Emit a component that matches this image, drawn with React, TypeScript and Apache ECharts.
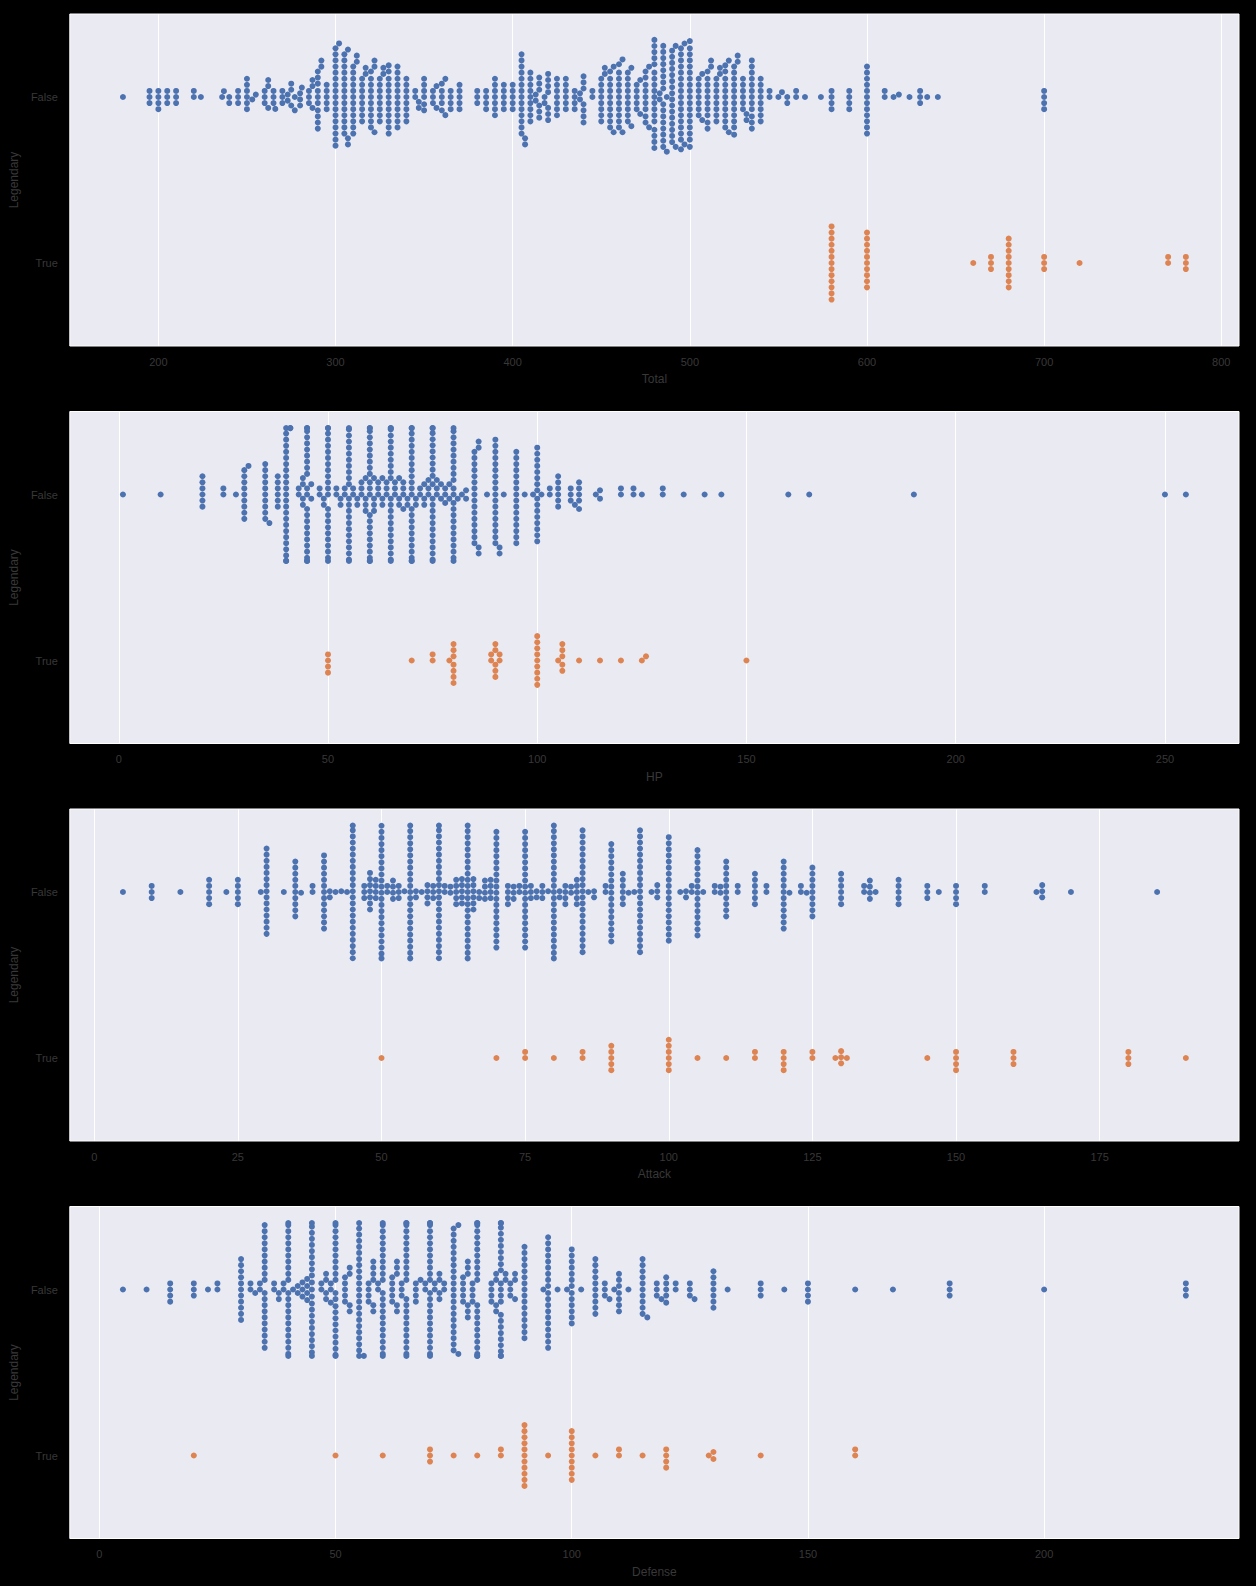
import React, { useEffect, useRef } from "react";
import * as echarts from "echarts";

type VC = [number, number][]; // [value, number of Pokémon with that value]

// ---------- Data ----------
const totalFalse: VC = [
  [180, 1], [195, 3], [200, 4], [205, 3], [210, 3], [220, 2], [224, 1], [236, 1], [237, 1], [240, 2],
  [245, 3], [250, 6], [253, 1], [255, 1], [260, 3], [262, 3], [265, 3], [266, 1], [270, 3], [273, 2],
  [275, 3], [277, 2], [280, 3], [281, 1], [285, 3], [287, 3], [290, 10], [292, 2], [295, 5], [300, 17],
  [302, 1], [305, 14], [307, 3], [310, 12], [312, 2], [315, 8], [317, 2], [320, 10], [322, 3], [325, 8],
  [327, 2], [330, 12], [335, 11], [340, 8], [345, 2], [347, 2], [350, 6], [355, 3], [357, 2], [360, 5],
  [362, 2], [365, 4], [370, 5], [380, 3], [385, 4], [390, 7], [395, 5], [400, 5], [405, 14], [407, 2],
  [410, 9], [413, 2], [415, 6], [418, 2], [420, 7], [425, 7], [430, 6], [435, 4], [438, 2], [440, 7],
  [445, 2], [450, 8], [452, 2], [455, 10], [457, 2], [460, 11], [462, 2], [465, 9], [467, 2], [470, 5],
  [472, 2], [475, 9], [477, 2], [480, 18], [483, 2], [485, 16], [487, 2], [490, 16], [492, 2], [495, 17],
  [497, 2], [500, 18], [505, 7], [507, 2], [510, 10], [512, 2], [515, 8], [517, 2], [520, 11], [522, 2],
  [525, 12], [527, 2], [530, 6], [532, 2], [535, 12], [540, 8], [545, 2], [550, 1], [552, 1], [555, 2],
  [560, 2], [565, 1], [574, 1], [580, 4], [590, 4], [600, 12], [610, 2], [615, 1], [618, 1], [624, 1],
  [630, 3], [634, 1], [640, 1], [700, 4],
];
const totalTrue: VC = [
  [580, 13], [600, 10], [660, 1], [670, 3], [680, 9], [700, 3], [720, 1], [770, 2], [780, 3],
];

const hpFalse: VC = [
  [1, 1], [10, 1], [20, 6], [25, 2], [28, 1], [30, 9], [31, 1], [35, 10], [36, 1], [38, 6],
  [40, 24], [41, 2], [43, 2], [44, 4], [45, 23], [46, 2], [48, 2], [49, 2], [50, 23], [52, 2],
  [53, 2], [54, 2], [55, 23], [56, 2], [57, 2], [58, 3], [59, 4], [60, 23], [61, 4], [62, 3],
  [63, 3], [64, 3], [65, 23], [66, 3], [67, 3], [68, 4], [69, 2], [70, 24], [71, 2], [72, 2],
  [73, 3], [74, 3], [75, 23], [76, 3], [77, 2], [78, 3], [79, 2], [80, 23], [81, 1], [82, 1],
  [83, 2], [85, 16], [86, 4], [88, 1], [90, 18], [91, 2], [92, 1], [95, 16], [97, 1], [99, 1],
  [100, 16], [101, 1], [103, 2], [105, 6], [108, 3], [109, 1], [110, 5], [114, 1], [115, 2], [120, 2],
  [123, 2], [125, 1], [130, 2], [135, 1], [140, 1], [144, 1], [160, 1], [165, 1], [190, 1], [250, 1],
  [255, 1],
];
const hpTrue: VC = [
  [50, 4], [70, 1], [75, 2], [79, 1], [80, 7], [89, 2], [90, 5], [91, 2], [100, 9], [105, 1],
  [106, 5], [110, 1], [115, 1], [120, 1], [125, 1], [126, 1], [150, 1],
];

const attackFalse: VC = [
  [5, 1], [10, 3], [15, 1], [20, 5], [23, 1], [25, 5], [29, 1], [30, 15], [33, 1], [35, 10],
  [36, 1], [38, 2], [40, 13], [41, 2], [42, 1], [43, 1], [44, 1], [45, 23], [47, 3], [48, 7],
  [49, 4], [50, 23], [51, 2], [52, 4], [53, 3], [54, 1], [55, 23], [56, 2], [57, 1], [58, 4],
  [59, 3], [60, 23], [61, 2], [62, 2], [63, 5], [64, 5], [65, 23], [66, 6], [67, 2], [68, 4],
  [69, 4], [70, 20], [72, 4], [73, 3], [74, 2], [75, 20], [76, 3], [77, 2], [78, 3], [79, 1],
  [80, 23], [81, 2], [82, 4], [83, 2], [84, 5], [85, 21], [86, 1], [87, 2], [89, 2], [90, 17],
  [92, 6], [93, 1], [94, 1], [95, 21], [97, 1], [98, 3], [100, 18], [102, 1], [103, 2], [104, 2],
  [105, 15], [106, 1], [108, 2], [109, 2], [110, 10], [112, 2], [115, 6], [117, 2], [120, 12], [121, 1],
  [123, 2], [124, 1], [125, 9], [130, 6], [134, 2], [135, 4], [136, 1], [140, 5], [145, 3], [147, 1],
  [150, 4], [155, 2], [164, 1], [165, 3], [170, 1], [185, 1],
];
const attackTrue: VC = [
  [50, 1], [70, 1], [75, 2], [80, 1], [85, 2], [90, 5], [100, 6], [105, 1], [110, 1], [115, 2],
  [120, 4], [125, 2], [129, 1], [130, 3], [131, 1], [145, 1], [150, 4], [160, 3], [180, 3], [190, 1],
];

const defenseFalse: VC = [
  [5, 1], [10, 1], [15, 4], [20, 3], [23, 1], [25, 2], [30, 11], [32, 2], [33, 1], [34, 2],
  [35, 20], [37, 2], [38, 2], [39, 2], [40, 23], [41, 1], [42, 2], [43, 3], [44, 4], [45, 23],
  [47, 2], [48, 4], [49, 3], [50, 23], [52, 5], [53, 4], [55, 23], [56, 1], [57, 4], [58, 6],
  [59, 2], [60, 23], [62, 5], [63, 5], [64, 3], [65, 23], [67, 4], [68, 1], [69, 2], [70, 24],
  [71, 2], [72, 4], [73, 2], [75, 21], [76, 2], [77, 5], [78, 6], [79, 4], [80, 23], [83, 4],
  [84, 4], [85, 23], [86, 2], [87, 3], [88, 3], [90, 16], [94, 1], [95, 19], [97, 1], [99, 1],
  [100, 13], [102, 1], [105, 10], [107, 3], [108, 1], [109, 1], [110, 7], [112, 1], [115, 10], [116, 1],
  [118, 3], [119, 1], [120, 5], [122, 2], [125, 3], [126, 1], [130, 7], [133, 1], [140, 3], [145, 1],
  [150, 4], [160, 1], [168, 1], [180, 3], [200, 1], [230, 3],
];
const defenseTrue: VC = [
  [20, 1], [50, 1], [60, 1], [70, 3], [75, 1], [80, 1], [85, 2], [90, 11], [95, 1], [100, 9],
  [105, 1], [110, 2], [115, 1], [120, 4], [129, 1], [130, 2], [140, 1], [160, 2],
];

const categories = ["False", "True"];
const totalTicks = [200, 300, 400, 500, 600, 700, 800];
const hpTicks = [0, 50, 100, 150, 200, 250];
const attackTicks = [0, 25, 50, 75, 100, 125, 150, 175];
const defenseTicks = [0, 50, 100, 150, 200];

// ---------- Layout ----------
const W = 1256;
const H = 1586;
const LEFT = 68;
const RIGHT = 17;
const PW = W - LEFT - RIGHT;
const PH = 332;
const TOPS = [14, 411.5, 809, 1206.5];
const CAT_PX = PH / 2;
const R = 2.9;
const HALF = 0.4 * CAT_PX;
const TEXT = "#383838";
const FONT = "'Liberation Sans', Arial, sans-serif";
const BLUE = "#4C72B0";
const ORANGE = "#DD8452";

const panels = [
  { name: "Total", range: [150, 810], ticks: totalTicks, f: totalFalse, t: totalTrue },
  { name: "HP", range: [-11.7, 267.7], ticks: hpTicks, f: hpFalse, t: hpTrue },
  { name: "Attack", range: [-4.25, 199.25], ticks: attackTicks, f: attackFalse, t: attackTrue },
  { name: "Defense", range: [-6.25, 241.25], ticks: defenseTicks, f: defenseFalse, t: defenseTrue },
];

function expand(vc: VC): number[] {
  const out: number[] = [];
  for (const [v, c] of vc) for (let i = 0; i < c; i++) out.push(v);
  return out;
}

// seaborn-like beeswarm, computed in pixel space; returns [value, offset in px]
function beeswarm(vals: number[], k: number): [number, number][] {
  const sorted = [...vals].sort((a, b) => a - b);
  const placed: { a: number; b: number }[] = [];
  const out: [number, number][] = [];
  const d2 = 4 * R * R;
  for (const v of sorted) {
    const a = v * k;
    const nb: { a: number; b: number }[] = [];
    for (let j = placed.length - 1; j >= 0; j--) {
      if (a - placed[j].a < 2 * R) nb.push(placed[j]);
      else break;
    }
    const cands: number[] = [0];
    let leftFirst = true;
    for (const n of nb) {
      const da = a - n.a;
      const db = Math.sqrt(Math.max(d2 - da * da, 0)) * 1.05;
      if (leftFirst) cands.push(n.b - db, n.b + db);
      else cands.push(n.b + db, n.b - db);
      leftFirst = !leftFirst;
    }
    const idx = cands.map((_, i) => i).sort((i, j) => Math.abs(cands[i]) - Math.abs(cands[j]) || i - j);
    let chosen = 0;
    for (const i of idx) {
      const c = cands[i];
      let ok = true;
      for (const n of nb) {
        const da = a - n.a;
        const db = c - n.b;
        if (da * da + db * db < d2 - 1e-6) {
          ok = false;
          break;
        }
      }
      if (ok) {
        chosen = c;
        break;
      }
    }
    placed.push({ a, b: chosen });
    out.push([v, Math.max(-HALF, Math.min(HALF, chosen))]);
  }
  return out;
}

function buildOption() {
  const grid: any[] = [];
  const xAxis: any[] = [];
  const yAxis: any[] = [];
  const series: any[] = [];
  panels.forEach((p, i) => {
    const k = PW / (p.range[1] - p.range[0]);
    grid.push({
      left: LEFT,
      top: TOPS[i],
      width: PW,
      height: PH,
      show: true,
      backgroundColor: "#EAEAF2",
      borderColor: "#ffffff",
      borderWidth: 1,
    });
    xAxis.push({
      type: "value",
      gridIndex: i,
      min: p.range[0],
      max: p.range[1],
      name: p.name,
      nameLocation: "middle",
      nameGap: 27,
      nameTextStyle: { color: TEXT, fontSize: 12, fontFamily: FONT },
      axisLine: { show: false },
      axisTick: { show: false },
      splitLine: { show: false },
      axisLabel: {
        customValues: p.ticks,
        formatter: (v: number) => String(v),
        color: TEXT,
        fontSize: 11,
        fontFamily: FONT,
        margin: 10,
      },
    });
    yAxis.push({
      type: "value",
      gridIndex: i,
      min: -0.5,
      max: 1.5,
      inverse: true,
      name: "Legendary",
      nameLocation: "middle",
      nameGap: 49,
      nameTextStyle: { color: TEXT, fontSize: 12, fontFamily: FONT },
      axisLine: { show: false },
      axisTick: { show: false },
      splitLine: { show: false },
      axisLabel: {
        customValues: [0, 1],
        formatter: (v: number) => categories[Math.round(v)] ?? "",
        color: TEXT,
        fontSize: 11,
        fontFamily: FONT,
        margin: 12,
      },
    });
    series.push({
      type: "scatter",
      xAxisIndex: i,
      yAxisIndex: i,
      data: [],
      silent: true,
      z: 1,
      zlevel: 0,
      markLine: {
        silent: true,
        z: 1,
        symbol: ["none", "none"],
        label: { show: false },
        lineStyle: { color: "#ffffff", width: 1, type: "solid", opacity: 1 },
        emphasis: { disabled: true },
        data: p.ticks.map((t) => ({ xAxis: t })),
      },
    });
    [p.f, p.t].forEach((vc, ci) => {
      const pts = beeswarm(expand(vc), k).map(([v, off]) => [v, ci + off / CAT_PX]);
      series.push({
        type: "scatter",
        name: categories[ci],
        xAxisIndex: i,
        yAxisIndex: i,
        data: pts,
        symbol: "circle",
        symbolSize: 6,
        itemStyle: { color: ci === 0 ? BLUE : ORANGE, opacity: 1 },
        z: 10,
        silent: true,
      });
    });
  });
  return { animation: false, backgroundColor: "#000000", grid, xAxis, yAxis, series };
}

export default function App() {
  const ref = useRef<HTMLDivElement>(null);
  useEffect(() => {
    if (!ref.current) return;
    const chart = echarts.init(ref.current, undefined, { renderer: "svg" });
    chart.setOption(buildOption() as any);
    return () => chart.dispose();
  }, []);
  return (
    <div
      ref={ref}
      style={{ position: "absolute", left: 0, top: 0, width: W, height: H, background: "#000" }}
    />
  );
}
